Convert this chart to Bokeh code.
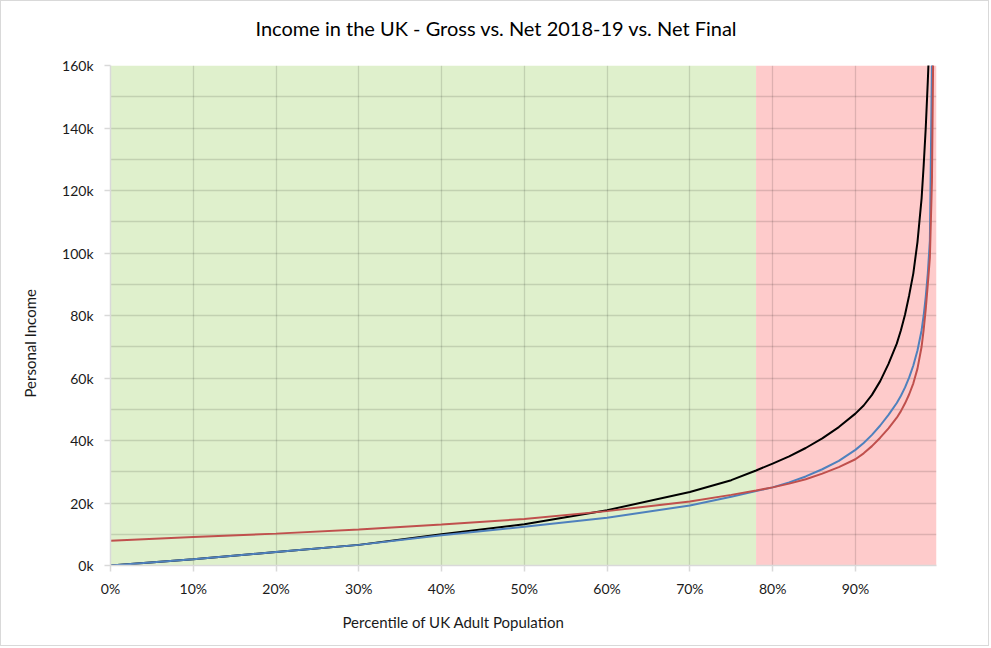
from bokeh.plotting import figure
from bokeh.models import (Range1d, FixedTicker, SingleIntervalTicker,
                          PrintfTickFormatter, Title, ColumnDataSource)
from bokeh.embed import file_html
from bokeh.resources import INLINE

# ---------------- data ----------------
percentile = [0, 10, 20, 30, 40, 50, 60, 70, 75, 78, 80, 82, 84, 86, 88, 90,
              91, 92, 93, 94, 95, 95.5, 96, 96.5, 97, 97.5, 98, 98.25, 98.5,
              98.75, 99, 99.25, 99.5, 99.8]

# income in thousands of pounds
gross = [0, 2.0, 4.3, 6.6, 10.0, 13.2, 17.7, 23.5, 27.3, 30.4, 32.6, 34.9,
         37.6, 40.7, 44.3, 48.6, 51.2, 54.6, 59.0, 64.5, 71.0, 75.3, 80.3,
         86.5, 93.5, 103.5, 117.5, 128, 140, 155, 172, 200, 240, 320]

net_2018_19 = [0, 2.0, 4.3, 6.6, 9.7, 12.4, 15.3, 19.2, 22.0, 23.8, 25.0,
               26.6, 28.5, 30.8, 33.5, 37.0, 39.2, 41.8, 44.8, 48.2, 52.0,
               54.3, 57.0, 60.2, 64.0, 68.8, 75.3, 80.0, 86.0, 93.5, 104,
               160, 230, 320]

net_final = [7.9, 9.1, 10.2, 11.5, 13.1, 14.9, 17.4, 20.5, 22.6, 24.0, 25.0,
             26.2, 27.6, 29.4, 31.5, 34.0, 35.9, 38.2, 40.9, 43.9, 47.3,
             49.4, 51.9, 54.8, 58.3, 63.0, 70.0, 75.5, 82.0, 90.0, 98.5,
             123, 190, 280]

zone_start = [0, 78]
zone_end = [78, 99.8]
zone_colors = ["#dff0cc", "#fecbcb"]

x_ticks = [0, 10, 20, 30, 40, 50, 60, 70, 80, 90]
y_ticks = [0, 20, 40, 60, 80, 100, 120, 140, 160]

title_text = "Income in the UK - Gross vs. Net 2018-19 vs. Net Final"
x_label = "Percentile of UK Adult Population"
y_label = "Personal Income"

FONT = "Lato"
TXT = "#1a1a1a"

p = figure(width=989, height=646,
           x_range=Range1d(0, 99.8), y_range=Range1d(0, 160),
           output_backend="svg", toolbar_location=None,
           min_border_left=109, min_border_right=54,
           min_border_top=64, min_border_bottom=82)

p.title.text = title_text
p.title.align = "left"
p.title.offset = 145
p.title.vertical_align = "top"
p.title.text_font = FONT
p.title.text_font_size = "20px"
p.title.text_font_style = "normal"
p.title.text_color = "#000000"
p.title.standoff = 22

# blank spacer between the plot area and the title
p.add_layout(Title(text=" ", text_font_size="10px", standoff=0), "above")

# background zones
zones = ColumnDataSource(dict(left=zone_start, right=zone_end,
                              color=zone_colors))
bg = p.quad(left="left", right="right", bottom=0, top=160, color="color",
            line_color=None, source=zones)
bg.level = "image"

# grids
p.xgrid.ticker = FixedTicker(ticks=x_ticks)
p.ygrid.ticker = SingleIntervalTicker(interval=10)
for g in (p.xgrid, p.ygrid):
    g.grid_line_color = "#000000"
    g.grid_line_alpha = 0.13
    g.grid_line_width = 1.3

# series
src = ColumnDataSource(dict(x=percentile, gross=gross, net=net_2018_19,
                            final=net_final))
p.line("x", "gross", source=src, line_color="#000000", line_width=2)
p.line("x", "net", source=src, line_color="#4f81bd", line_width=2)
p.line("x", "final", source=src, line_color="#c0504d", line_width=2)

# axes
p.xaxis.ticker = FixedTicker(ticks=x_ticks)
p.xaxis.formatter = PrintfTickFormatter(format="%d%%")
p.yaxis.ticker = FixedTicker(ticks=y_ticks)
p.yaxis.formatter = PrintfTickFormatter(format="%dk")
for ax in (p.xaxis, p.yaxis):
    ax.axis_line_color = "#d9d9d9"
    ax.axis_line_width = 1.5
    ax.major_tick_line_color = "#d9d9d9"
    ax.major_tick_line_width = 1.5
    ax.major_tick_out = 6
    ax.major_tick_in = 0
    ax.minor_tick_line_color = None
    ax.major_label_text_font = FONT
    ax.major_label_text_font_size = "14px"
    ax.major_label_text_color = TXT
p.xaxis.major_label_standoff = 8
p.yaxis.major_label_standoff = 11

p.outline_line_color = None

xt = Title(text=x_label, align="left", offset=232, text_font=FONT,
           text_font_size="15px", text_font_style="normal",
           text_color=TXT, standoff=22)
p.add_layout(xt, "below")
yt = Title(text=y_label, align="left", offset=168, text_font=FONT,
           text_font_size="15px", text_font_style="normal",
           text_color=TXT, standoff=37, vertical_align="top")
p.add_layout(yt, "left")

p.styles = {"border": "1px solid #d9d9d9"}

open("out.html", "w").write(file_html(p, INLINE))
